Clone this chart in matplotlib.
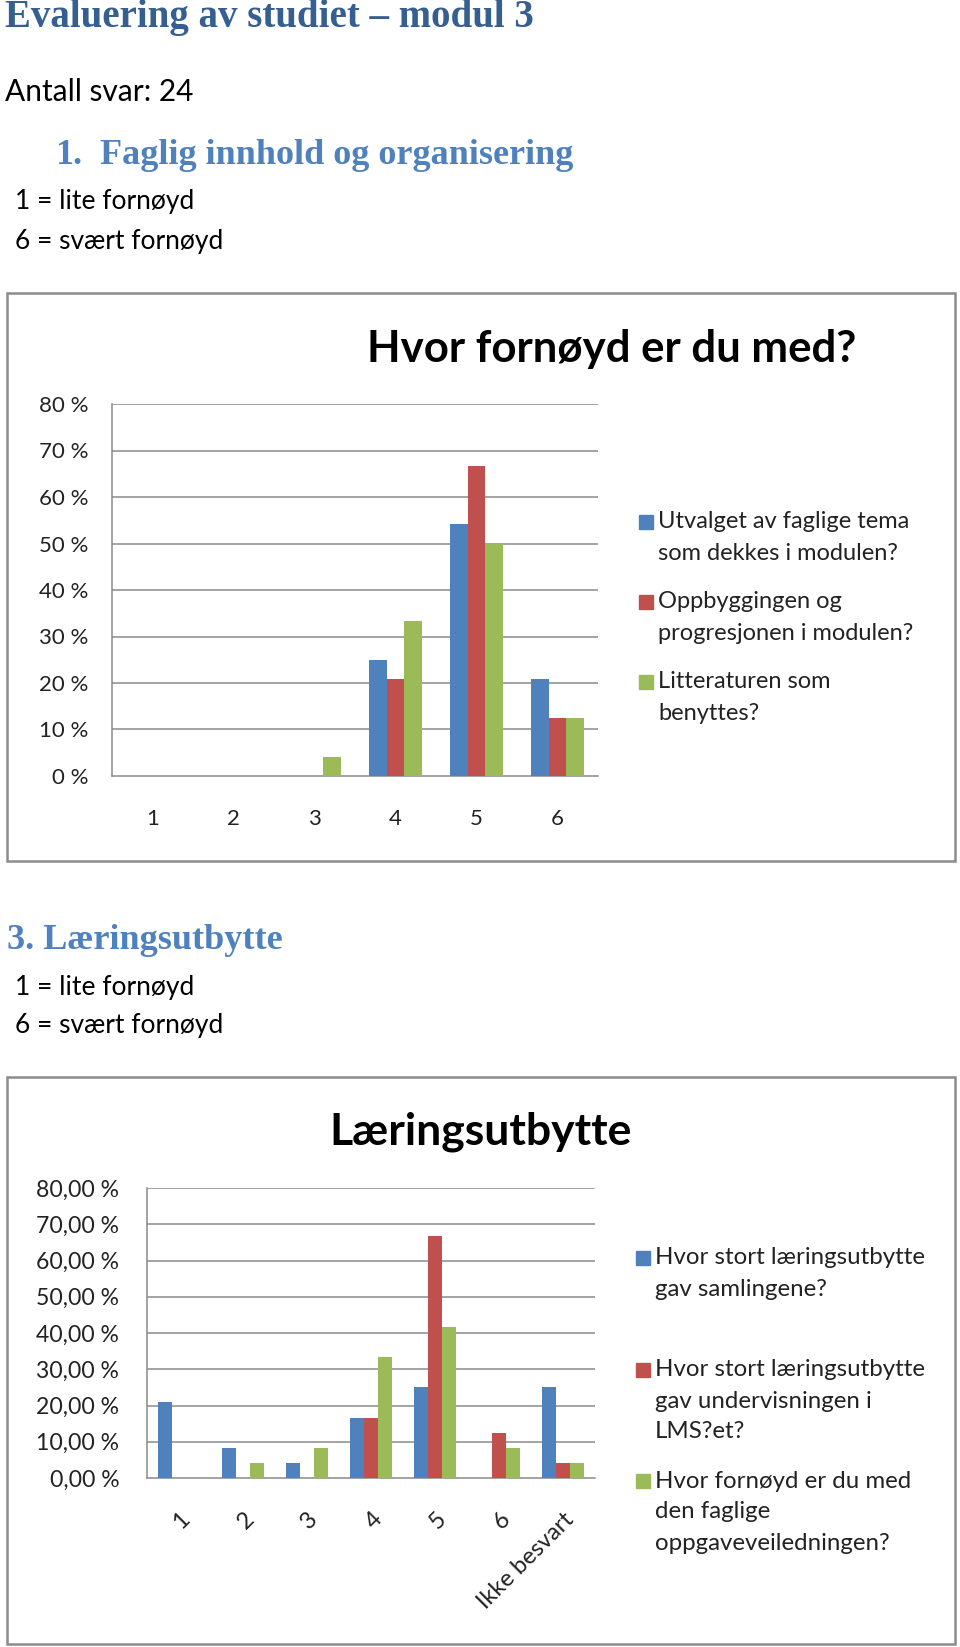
import matplotlib
matplotlib.use("Agg")
import matplotlib.pyplot as plt
from matplotlib.patches import Rectangle
import numpy as np

# data (percent of 24 answers)
categories1 = ['1', '2', '3', '4', '5', '6']
utvalget = [0, 0, 0, 25.0, 54.17, 20.83]
oppbygging = [0, 0, 0, 20.83, 66.67, 12.5]
litteratur = [0, 0, 4.17, 33.33, 50.0, 12.5]
series1_names = ['Utvalget av faglige tema\nsom dekkes i modulen?',
                 'Oppbyggingen og\nprogresjonen i modulen?',
                 'Litteraturen som\nbenyttes?']

categories2 = ['1', '2', '3', '4', '5', '6', 'Ikke besvart']
samlingene = [20.83, 8.33, 4.17, 16.67, 25.0, 0, 25.0]
lms = [0, 0, 0, 16.67, 66.67, 12.5, 4.17]
veiledning = [0, 4.17, 8.33, 33.33, 41.67, 8.33, 4.17]
series2_names = ['Hvor stort læringsutbytte\ngav samlingene?',
                 'Hvor stort læringsutbytte\ngav undervisningen i\nLMS?et?',
                 'Hvor fornøyd er du med\nden faglige\noppgaveveiledningen?']

yticks = [0, 10, 20, 30, 40, 50, 60, 70, 80]

colors = ['#4F81BD', '#C0504D', '#9BBB59']
grid_color = '#8A8A8A'
SANS = ['Lato', 'DejaVu Sans']
SERIF = ['Liberation Serif', 'DejaVu Serif']

W, H = 960, 1647
fig = plt.figure(figsize=(W / 100, H / 100), dpi=100)
fig.patch.set_facecolor('white')


def fx(x):
    return x / W


def fy(y):
    return 1 - y / H


def put(x, y, s, size, family=SANS, **kw):
    kw.setdefault('ha', 'left')
    kw.setdefault('va', 'center')
    fig.text(fx(x), fy(y), s, fontsize=size, family=family, **kw)


def chart_box(top, bottom):
    fig.patches.append(Rectangle((fx(7), fy(bottom)), fx(955) - fx(7), fy(top) - fy(bottom),
                                 transform=fig.transFigure, fill=False,
                                 edgecolor='#8C8C8C', linewidth=1.8))


def bar_axes(left, right, top, bottom, cats, series, label_fmt, tick_size):
    ax = fig.add_axes([fx(left), fy(bottom), fx(right) - fx(left), fy(top) - fy(bottom)])
    x = np.arange(len(cats))
    w = 0.222
    for i, vals in enumerate(series):
        ax.bar(x + (i - 1) * w, vals, width=w, color=colors[i], linewidth=0, zorder=3)
    ax.set_xlim(-0.5, len(cats) - 0.5)
    ax.set_ylim(0, 80)
    ax.set_yticks(yticks)
    ax.set_yticklabels([label_fmt(v) for v in yticks], family=SANS, fontsize=tick_size,
                       color='#222222')
    ax.set_xticks(x)
    for v in yticks[1:]:
        ax.axhline(v, color=grid_color, linewidth=1.1, zorder=1)
    for side in ['top', 'right']:
        ax.spines[side].set_visible(False)
    for side in ['left', 'bottom']:
        ax.spines[side].set_color(grid_color)
        ax.spines[side].set_linewidth(1.1)
    ax.tick_params(length=0)
    return ax


def legend(x, starts, names, line_gap, size):
    for i, (y0, name) in enumerate(zip(starts, names)):
        fig.patches.append(Rectangle((fx(x), fy(y0 + 7)), fx(14), 14 / H,
                                     transform=fig.transFigure, color=colors[i]))
        for j, line in enumerate(name.split('\n')):
            put(x + 19, y0 + j * line_gap, line, size, color='#222222')


# page headings
put(5, 18, 'Evaluering av studiet – modul 3', 28, SERIF, weight='bold', color='#365F91')
put(5, 92, 'Antall svar: 24', 21.5, color='black')
put(55, 155, '1.', 26, SERIF, weight='bold', color='#4F81BD')
put(100, 155, 'Faglig innhold og organisering', 26, SERIF, weight='bold', color='#4F81BD')
put(15, 202, '1 = lite fornøyd', 19, color='black')
put(15, 242, '6 = svært fornøyd', 19, color='black')

# chart 1
chart_box(293, 861)
ax1 = bar_axes(112, 598, 404, 776, categories1, [utvalget, oppbygging, litteratur],
               lambda v: f'{v} %', 16)
ax1.set_xticklabels(categories1, family=SANS, fontsize=16, color='#222222')
ax1.tick_params(axis='x', pad=24)
ax1.tick_params(axis='y', pad=17)
put(612, 349, 'Hvor fornøyd er du med?', 31.5, ha='center', weight='bold', color='black')
legend(639, [522, 602, 682], series1_names, 32, 17)

# section 3
put(7, 940, '3. Læringsutbytte', 26, SERIF, weight='bold', color='#4F81BD')
put(15, 988, '1 = lite fornøyd', 19, color='black')
put(15, 1026, '6 = svært fornøyd', 19, color='black')

# chart 2
chart_box(1077, 1644)
ax2 = bar_axes(147, 595, 1188, 1478, categories2, [samlingene, lms, veiledning],
               lambda v: f'{v},00 %', 16.6)
ax2.set_xticklabels(categories2, family=SANS, fontsize=17, color='#222222',
                    rotation=45, ha='right', va='top', rotation_mode='anchor')
ax2.tick_params(axis='x', pad=22)
ax2.tick_params(axis='y', pad=20)
put(481, 1132, 'Læringsutbytte', 32, ha='center', weight='bold', color='black')
legend(636, [1258, 1370, 1481], series2_names, 31, 17.3)

fig.savefig('out.png', dpi=100, facecolor='white')
